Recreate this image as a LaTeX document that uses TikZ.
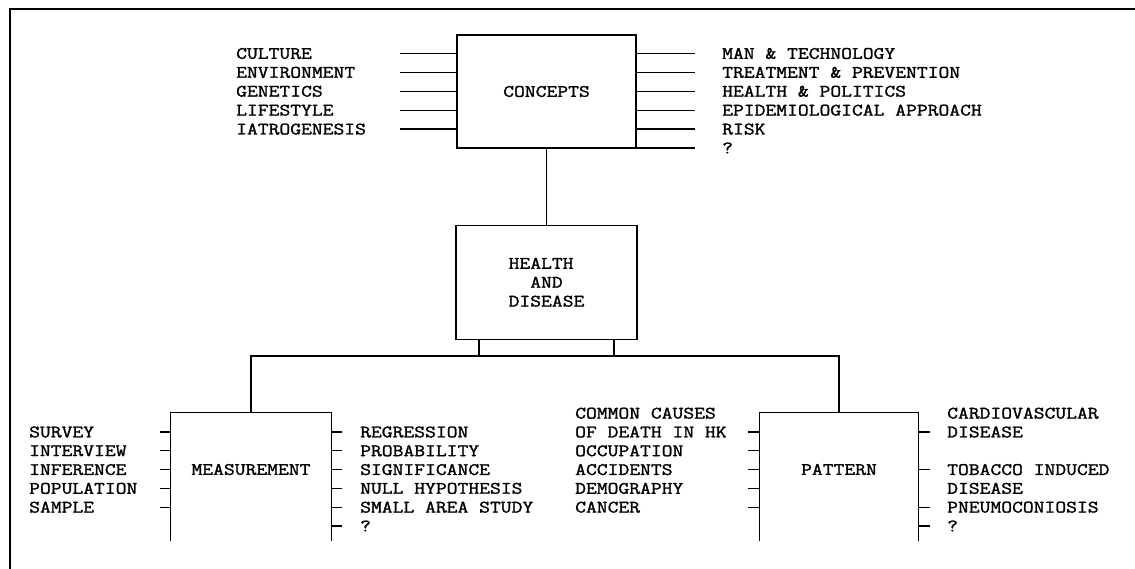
\documentclass[tikz,border=0pt]{standalone}
\usepackage{fontspec}
\newfontfamily\diagfont[FakeStretch=1.2,FakeBold=1.5]{Latin Modern Mono}
\usetikzlibrary{positioning}

\tikzset{
  box/.style={draw, line width=1.3pt, inner sep=0pt, font=\diagfont\fontsize{17.5}{18.9}\selectfont},
  openbox/.style={inner sep=0pt, font=\diagfont\fontsize{17.5}{18.9}\selectfont},
  item/.style={anchor=west, inner sep=0pt, font=\diagfont\fontsize{17.5}{18.9}\selectfont},
  stub/.style={line width=1.3pt},
}

\begin{document}
\begin{tikzpicture}[x=1pt,y=-1pt]
    \useasboundingbox (0,0) rectangle (1135,569);
    \draw[line width=2.2pt] (1135,9) -- (10,9) -- (10,569);

    % concepts
    \node[box, minimum width=179, minimum height=113] (cpt) at (546.5,91.5) {CONCEPTS};
    \foreach \t [count=\i from 0] in {CULTURE,ENVIRONMENT,GENETICS,LIFESTYLE,IATROGENESIS}{
        \node[item] (tl\i) at (236,{53.5+18.9*\i}) {\t};
        \coordinate (tle\i) at (400,{53.5+18.9*\i});
        \draw[stub] (tle\i) -- (cpt.west |- tle\i);
    }
    \foreach \t [count=\i from 0] in {MAN \& TECHNOLOGY,TREATMENT \& PREVENTION,HEALTH \& POLITICS,EPIDEMIOLOGICAL APPROACH,RISK,?}{
        \node[item] (tr\i) at (722,{53.5+18.9*\i}) {\t};
        \coordinate (tre\i) at (695,{53.5+18.9*\i});
        \draw[stub] (cpt.east |- tre\i) -- (tre\i);
    }

    % health and disease
    \node[box, minimum width=181, minimum height=114, align=left, below=76pt of cpt] (hd) {HEALTH\\\hphantom{XX}AND\\DISEASE};
    \draw[stub] (cpt.south) -- (hd.north);

    % measurement and pattern (bottom edge cut off)
    \node[openbox, minimum width=160, minimum height=113] (meas) at (251,469.5) {MEASUREMENT};
    \node[openbox, minimum width=158, minimum height=113] (pat) at (839,469.5) {PATTERN};
    \foreach \b in {meas,pat}{
        \draw[stub] ([yshift=-15pt]\b.south west) -- (\b.north west) -- (\b.north east) -- ([yshift=-15pt]\b.south east);
    }
    \coordinate (bus) at (0,356);
    \draw[stub] (meas.north) |- (bus -| pat.north) -- (pat.north);
    \foreach \dx in {-67.5,67.5}{
        \draw[stub] ([xshift=\dx pt]hd.south) -- ([xshift=\dx pt]hd.south |- bus);
    }

    \foreach \t [count=\i from 0] in {SURVEY,INTERVIEW,INFERENCE,POPULATION,SAMPLE}{
        \node[item] (ml\i) at (29,{432+18.8*\i}) {\t};
        \coordinate (mle\i) at (160,{432+18.8*\i});
        \draw[stub] (mle\i) -- (meas.west |- mle\i);
    }
    \foreach \t [count=\i from 0] in {REGRESSION,PROBABILITY,SIGNIFICANCE,NULL HYPOTHESIS,SMALL AREA STUDY,?}{
        \node[item] (mr\i) at (360,{432+18.8*\i}) {\t};
        \coordinate (mre\i) at (342,{432+18.8*\i});
        \draw[stub] (meas.east |- mre\i) -- (mre\i);
    }

    \foreach \t [count=\i from -1] in {COMMON CAUSES,OF DEATH IN HK,OCCUPATION,ACCIDENTS,DEMOGRAPHY,CANCER}{
        \node[item] (pl\i) at (575,{432+18.8*\i}) {\t};
        \ifnum\i>-1
            \coordinate (ple\i) at (748,{432+18.8*\i});
            \draw[stub] (ple\i) -- (pat.west |- ple\i);
        \fi
    }
    \foreach \r/\t in {-1/CARDIOVASCULAR,0/DISEASE,2/TOBACCO INDUCED,3/DISEASE,4/PNEUMOCONIOSIS,5/?}{
        \node[item] (pr\r) at (947,{432+18.8*\r}) {\t};
    }
    \foreach \r in {0,2,4,5}{
        \coordinate (pre\r) at (930,{432+18.8*\r});
        \draw[stub] (pat.east |- pre\r) -- (pre\r);
    }
\end{tikzpicture}
\end{document}
